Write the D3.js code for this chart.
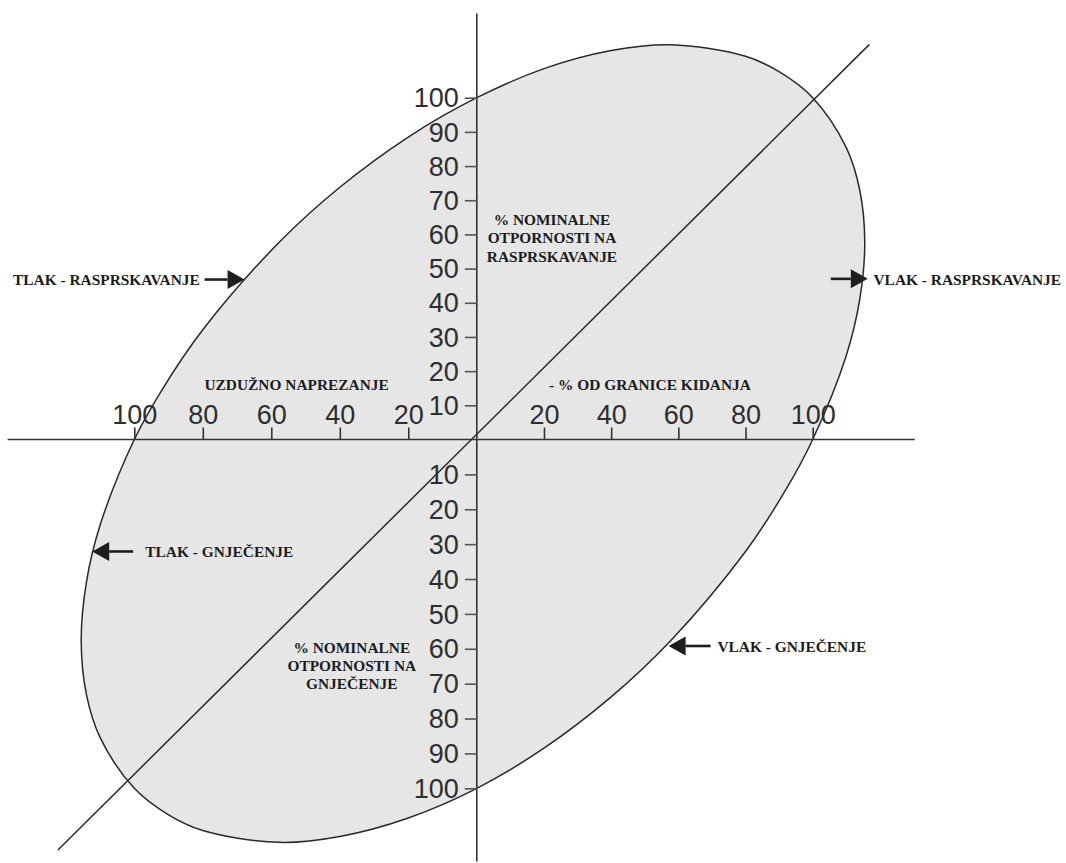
<!DOCTYPE html>
<html>
<head>
<meta charset="utf-8">
<script src="https://cdn.jsdelivr.net/npm/d3@7"></script>
<style>
  html, body { margin: 0; padding: 0; background: #fff; }
  svg { display: block; }
  .tick text { font-family: "Liberation Sans", Arial, sans-serif; font-size: 27px; fill: #2e2e2e; }
  .lbl { font-family: "Liberation Serif", "Times New Roman", serif; font-weight: bold; font-size: 15.4px; fill: #1c1c1c; }
</style>
</head>
<body>
<script>
// ---- data (values in % units) ----
const xTicks = [-100, -80, -60, -40, -20, 20, 40, 60, 80, 100];
const yTicks = [-100, -90, -80, -70, -60, -50, -40, -30, -20, -10, 10, 20, 30, 40, 50, 60, 70, 80, 90, 100];

// envelope boundary points (x = longitudinal stress %, y = % of nominal rating)
const boundaryX = [100, 110, 114, 115.5, 114, 110, 100, 90, 80, 57.7, 40, 20, 0, -20, -40, -57.7, -80, -92,
                   -100, -110, -114, -115.5, -114, -110, -100, -90, -80, -57.7, -40, -20, 0, 20, 40, 57.7, 80, 92];
const boundaryY = [0, 24.6, 41, 57.7, 73, 85.4, 100, 107.6, 112.1, 115.5, 113.8, 108.5, 100, 88.5, 73.8, 57.7, 32.1, 14.4,
                   0, -24.6, -41, -57.7, -73, -85.4, -100, -107.6, -112.1, -115.5, -113.8, -108.5, -100, -88.5, -73.8, -57.7, -32.1, -14.4];

// diagonal reference line end points
const diagonalX = [-122.3, 116.9];
const diagonalY = [-117.7, 115.6];

// axis line extents
const axisXExtent = [-137, 130.4];
const axisYExtent = [-121, 124.6];

// annotation labels
const arrowLabels = ["TLAK - RASPRSKAVANJE", "VLAK - RASPRSKAVANJE", "TLAK - GNJEČENJE", "VLAK - GNJEČENJE"];
const arrowTipX = [-67.8, 116.4, -112.3, 57.1];
const arrowTipY = [46.8, 47, -32.1, -59.2];
const burstLines = ["% NOMINALNE", "OTPORNOSTI NA", "RASPRSKAVANJE"];
const collapseLines = ["% NOMINALNE", "OTPORNOSTI NA", "GNJEČENJE"];
const axisTitleLeft = "UZDUŽNO NAPREZANJE";
const axisTitleRight = "- % OD GRANICE KIDANJA";

// ---- drawing ----
const W = 1066, H = 863;
const svg = d3.select("body").append("svg").attr("width", W).attr("height", H);

const x = d3.scaleLinear().domain([-100, 0, 100]).range([134.3, 476.8, 812.7]);
const y = d3.scaleLinear().domain([-100, 0, 100]).range([788.3, 439.5, 97.7]);

const ink = "#333";

// envelope
const pts = boundaryX.map((d, i) => [d, boundaryY[i]]);
svg.append("path")
  .attr("d", d3.line().x(d => x(d[0])).y(d => y(d[1])).curve(d3.curveCatmullRomClosed.alpha(0.5))(pts))
  .attr("fill", "#e6e6e6")
  .attr("stroke", "#2a2a2a")
  .attr("stroke-width", 1.5);

// axis lines
svg.append("line")
  .attr("x1", x(axisXExtent[0])).attr("x2", x(axisXExtent[1]))
  .attr("y1", y(0)).attr("y2", y(0))
  .attr("stroke", ink).attr("stroke-width", 1.6);
svg.append("line")
  .attr("x1", x(0)).attr("x2", x(0))
  .attr("y1", y(axisYExtent[1])).attr("y2", y(axisYExtent[0]))
  .attr("stroke", ink).attr("stroke-width", 1.6);

// diagonal
svg.append("line")
  .attr("x1", x(diagonalX[0])).attr("y1", y(diagonalY[0]))
  .attr("x2", x(diagonalX[1])).attr("y2", y(diagonalY[1]))
  .attr("stroke", "#2a2a2a").attr("stroke-width", 1.5);

// x axis ticks (upward, labels above)
const gx = svg.append("g")
  .attr("transform", `translate(0,${y(0)})`)
  .call(d3.axisTop(x).tickValues(xTicks).tickFormat(d => Math.abs(d)).tickSize(12).tickPadding(4));
gx.select(".domain").remove();
gx.selectAll(".tick line").attr("stroke", ink).attr("stroke-width", 1.6);

// y axis ticks (left, labels left)
const gy = svg.append("g")
  .attr("transform", `translate(${x(0)},0)`)
  .call(d3.axisLeft(y).tickValues(yTicks).tickFormat(d => Math.abs(d)).tickSize(12).tickPadding(6));
gy.select(".domain").remove();
gy.selectAll(".tick line").attr("stroke", "#555").attr("stroke-width", 1.6);
gy.selectAll(".tick text").attr("dy", "0.34em");

// arrows with labels
function arrow(i, dir, textX, textBase, anchor, tailLen) {
  const tx = x(arrowTipX[i]), ty = y(arrowTipY[i]);
  const headL = 17, headW = 9.5;
  const back = tx + dir * headL;
  svg.append("line")
    .attr("x1", back).attr("y1", ty)
    .attr("x2", tx + dir * tailLen).attr("y2", ty)
    .attr("stroke", "#1e1e1e").attr("stroke-width", 2.6);
  svg.append("path")
    .attr("d", `M${tx},${ty} L${back},${ty - headW} L${back},${ty + headW} Z`)
    .attr("fill", "#1e1e1e");
  svg.append("text").attr("class", "lbl")
    .attr("x", textX).attr("y", textBase)
    .attr("text-anchor", anchor)
    .text(arrowLabels[i]);
}
arrow(0, -1, 13, 284.5, "start", 40);
arrow(1, -1, 873.5, 284.5, "start", 37);
arrow(2, 1, 145.3, 556.5, "start", 41);
arrow(3, 1, 717.4, 651.8, "start", 42);

// multi-line centered labels
function block(lines, cx, firstBase, step) {
  const t = svg.append("text").attr("class", "lbl").attr("text-anchor", "middle");
  lines.forEach((s, i) => t.append("tspan").attr("x", cx).attr("y", firstBase + i * step).text(s));
}
block(burstLines, 552, 225, 18.3);
block(collapseLines, 351.8, 652.5, 18.2);

svg.append("text").attr("class", "lbl").attr("x", 296.6).attr("y", 390).attr("text-anchor", "middle").text(axisTitleLeft);
svg.append("text").attr("class", "lbl").attr("x", 650).attr("y", 389.5).attr("text-anchor", "middle").text(axisTitleRight);
</script>
</body>
</html>
